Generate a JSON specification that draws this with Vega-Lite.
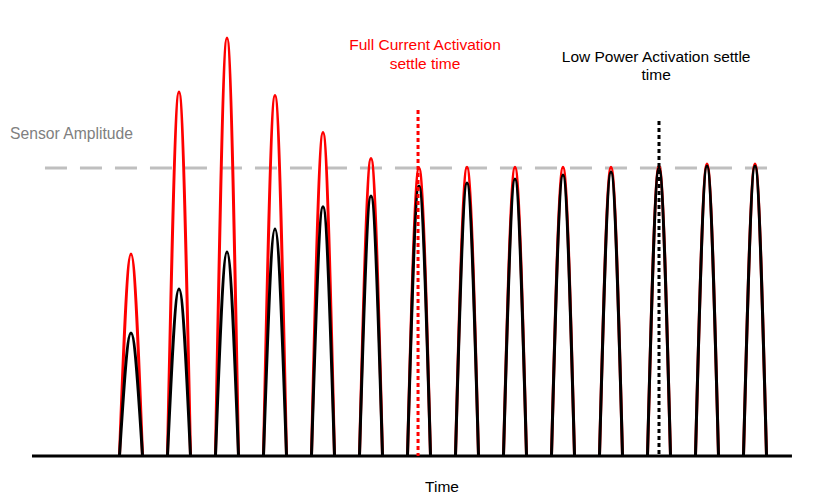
{
  "$schema": "https://vega.github.io/schema/vega-lite/v6.json",
  "width": 815,
  "height": 501,
  "padding": 0,
  "autosize": {"type": "none"},
  "background": "white",
  "config": {"view": {"stroke": null}, "text": {"font": "Liberation Sans"}},
  "datasets": {
    "bumps": [
      {"series": "red", "bump": 1, "t": 0.76, "v": 0}, {"series": "red", "bump": 1, "t": 1, "v": 0.701}, {"series": "red", "bump": 1, "t": 1.24, "v": 0},
      {"series": "red", "bump": 2, "t": 1.76, "v": 0}, {"series": "red", "bump": 2, "t": 2, "v": 1.264}, {"series": "red", "bump": 2, "t": 2.24, "v": 0},
      {"series": "red", "bump": 3, "t": 2.76, "v": 0}, {"series": "red", "bump": 3, "t": 3, "v": 1.451}, {"series": "red", "bump": 3, "t": 3.24, "v": 0},
      {"series": "red", "bump": 4, "t": 3.76, "v": 0}, {"series": "red", "bump": 4, "t": 4, "v": 1.252}, {"series": "red", "bump": 4, "t": 4.24, "v": 0},
      {"series": "red", "bump": 5, "t": 4.76, "v": 0}, {"series": "red", "bump": 5, "t": 5, "v": 1.123}, {"series": "red", "bump": 5, "t": 5.24, "v": 0},
      {"series": "red", "bump": 6, "t": 5.76, "v": 0}, {"series": "red", "bump": 6, "t": 6, "v": 1.033}, {"series": "red", "bump": 6, "t": 6.24, "v": 0},
      {"series": "red", "bump": 7, "t": 6.76, "v": 0}, {"series": "red", "bump": 7, "t": 7, "v": 1.0}, {"series": "red", "bump": 7, "t": 7.24, "v": 0},
      {"series": "red", "bump": 8, "t": 7.76, "v": 0}, {"series": "red", "bump": 8, "t": 8, "v": 1.003}, {"series": "red", "bump": 8, "t": 8.24, "v": 0},
      {"series": "red", "bump": 9, "t": 8.76, "v": 0}, {"series": "red", "bump": 9, "t": 9, "v": 1.003}, {"series": "red", "bump": 9, "t": 9.24, "v": 0},
      {"series": "red", "bump": 10, "t": 9.76, "v": 0}, {"series": "red", "bump": 10, "t": 10, "v": 1.003}, {"series": "red", "bump": 10, "t": 10.24, "v": 0},
      {"series": "red", "bump": 11, "t": 10.76, "v": 0}, {"series": "red", "bump": 11, "t": 11, "v": 1.003}, {"series": "red", "bump": 11, "t": 11.24, "v": 0},
      {"series": "red", "bump": 12, "t": 11.76, "v": 0}, {"series": "red", "bump": 12, "t": 12, "v": 1.007}, {"series": "red", "bump": 12, "t": 12.24, "v": 0},
      {"series": "red", "bump": 13, "t": 12.76, "v": 0}, {"series": "red", "bump": 13, "t": 13, "v": 1.014}, {"series": "red", "bump": 13, "t": 13.24, "v": 0},
      {"series": "red", "bump": 14, "t": 13.76, "v": 0}, {"series": "red", "bump": 14, "t": 14, "v": 1.014}, {"series": "red", "bump": 14, "t": 14.24, "v": 0},
      {"series": "black", "bump": 1, "t": 0.76, "v": 0}, {"series": "black", "bump": 1, "t": 1, "v": 0.427}, {"series": "black", "bump": 1, "t": 1.24, "v": 0},
      {"series": "black", "bump": 2, "t": 1.76, "v": 0}, {"series": "black", "bump": 2, "t": 2, "v": 0.58}, {"series": "black", "bump": 2, "t": 2.24, "v": 0},
      {"series": "black", "bump": 3, "t": 2.76, "v": 0}, {"series": "black", "bump": 3, "t": 3, "v": 0.708}, {"series": "black", "bump": 3, "t": 3.24, "v": 0},
      {"series": "black", "bump": 4, "t": 3.76, "v": 0}, {"series": "black", "bump": 4, "t": 4, "v": 0.788}, {"series": "black", "bump": 4, "t": 4.24, "v": 0},
      {"series": "black", "bump": 5, "t": 4.76, "v": 0}, {"series": "black", "bump": 5, "t": 5, "v": 0.865}, {"series": "black", "bump": 5, "t": 5.24, "v": 0},
      {"series": "black", "bump": 6, "t": 5.76, "v": 0}, {"series": "black", "bump": 6, "t": 6, "v": 0.903}, {"series": "black", "bump": 6, "t": 6.24, "v": 0},
      {"series": "black", "bump": 7, "t": 6.76, "v": 0}, {"series": "black", "bump": 7, "t": 7, "v": 0.9375}, {"series": "black", "bump": 7, "t": 7.24, "v": 0},
      {"series": "black", "bump": 8, "t": 7.76, "v": 0}, {"series": "black", "bump": 8, "t": 8, "v": 0.948}, {"series": "black", "bump": 8, "t": 8.24, "v": 0},
      {"series": "black", "bump": 9, "t": 8.76, "v": 0}, {"series": "black", "bump": 9, "t": 9, "v": 0.962}, {"series": "black", "bump": 9, "t": 9.24, "v": 0},
      {"series": "black", "bump": 10, "t": 9.76, "v": 0}, {"series": "black", "bump": 10, "t": 10, "v": 0.976}, {"series": "black", "bump": 10, "t": 10.24, "v": 0},
      {"series": "black", "bump": 11, "t": 10.76, "v": 0}, {"series": "black", "bump": 11, "t": 11, "v": 0.986}, {"series": "black", "bump": 11, "t": 11.24, "v": 0},
      {"series": "black", "bump": 12, "t": 11.76, "v": 0}, {"series": "black", "bump": 12, "t": 12, "v": 1.0}, {"series": "black", "bump": 12, "t": 12.24, "v": 0},
      {"series": "black", "bump": 13, "t": 12.76, "v": 0}, {"series": "black", "bump": 13, "t": 13, "v": 1.007}, {"series": "black", "bump": 13, "t": 13.24, "v": 0},
      {"series": "black", "bump": 14, "t": 13.76, "v": 0}, {"series": "black", "bump": 14, "t": 14, "v": 1.007}, {"series": "black", "bump": 14, "t": 14.24, "v": 0}
    ],
    "labels": [
      {"label": "Sensor Amplitude", "t": -1.521, "v": 1.118, "kind": "gray", "align": "left"},
      {"label": "Full Current Activation", "t": 7.125, "v": 1.427, "kind": "red", "align": "center"},
      {"label": "settle time", "t": 7.125, "v": 1.361, "kind": "red", "align": "center"},
      {"label": "Low Power Activation settle", "t": 11.94, "v": 1.385, "kind": "black", "align": "center"},
      {"label": "time", "t": 11.94, "v": 1.323, "kind": "black", "align": "center"},
      {"label": "Time", "t": 7.48, "v": -0.108, "kind": "black", "align": "center"}
    ]
  },
  "encoding": {
    "x": {"type": "quantitative", "scale": {"domain": [-1.729, 15.25], "nice": false, "zero": false}, "axis": null},
    "y": {"type": "quantitative", "scale": {"domain": [-0.15625, 1.5833], "nice": false, "zero": false}, "axis": null}
  },
  "layer": [
    {
      "data": {"values": [{"t": -0.792, "t2": 14.25, "v": 1.0}]},
      "mark": {"type": "rule", "color": "#bfbfbf", "strokeWidth": 3, "strokeDash": [22, 13]},
      "encoding": {"x": {"field": "t"}, "x2": {"field": "t2"}, "y": {"field": "v"}}
    },
    {
      "data": {"name": "bumps"},
      "transform": [{"filter": "datum.series === 'red'"}],
      "mark": {"type": "line", "color": "#ff0000", "strokeWidth": 3, "interpolate": "monotone"},
      "encoding": {"x": {"field": "t"}, "y": {"field": "v"}, "detail": {"field": "bump", "type": "nominal"}, "order": {"field": "t"}}
    },
    {
      "data": {"name": "bumps"},
      "transform": [{"filter": "datum.series === 'black'"}],
      "mark": {"type": "line", "color": "#000000", "strokeWidth": 3, "interpolate": "monotone"},
      "encoding": {"x": {"field": "t"}, "y": {"field": "v"}, "detail": {"field": "bump", "type": "nominal"}, "order": {"field": "t"}}
    },
    {
      "data": {"values": [{"t": -1.0625, "t2": 14.77, "v": 0}]},
      "mark": {"type": "rule", "color": "#000000", "strokeWidth": 3},
      "encoding": {"x": {"field": "t"}, "x2": {"field": "t2"}, "y": {"field": "v"}}
    },
    {
      "data": {"values": [{"t": 6.98, "v": 1.201, "v2": 0}]},
      "mark": {"type": "rule", "color": "#ff0000", "strokeWidth": 3, "strokeDash": [4, 3]},
      "encoding": {"x": {"field": "t"}, "y": {"field": "v"}, "y2": {"field": "v2"}}
    },
    {
      "data": {"values": [{"t": 12.0, "v": 1.163, "v2": 0}]},
      "mark": {"type": "rule", "color": "#000000", "strokeWidth": 3, "strokeDash": [4, 3]},
      "encoding": {"x": {"field": "t"}, "y": {"field": "v"}, "y2": {"field": "v2"}}
    },
    {
      "data": {"name": "labels"},
      "transform": [{"filter": "datum.align === 'left'"}],
      "mark": {"type": "text", "align": "left", "baseline": "middle", "fontSize": 15.7, "color": "#808080"},
      "encoding": {"x": {"field": "t"}, "y": {"field": "v"}, "text": {"field": "label"}}
    },
    {
      "data": {"name": "labels"},
      "transform": [{"filter": "datum.align === 'center'"}],
      "mark": {"type": "text", "align": "center", "baseline": "middle", "fontSize": 15.5},
      "encoding": {
        "x": {"field": "t"}, "y": {"field": "v"}, "text": {"field": "label"},
        "color": {"field": "kind", "type": "nominal", "scale": {"domain": ["red", "black"], "range": ["#ff0000", "#000000"]}, "legend": null}
      }
    }
  ]
}
